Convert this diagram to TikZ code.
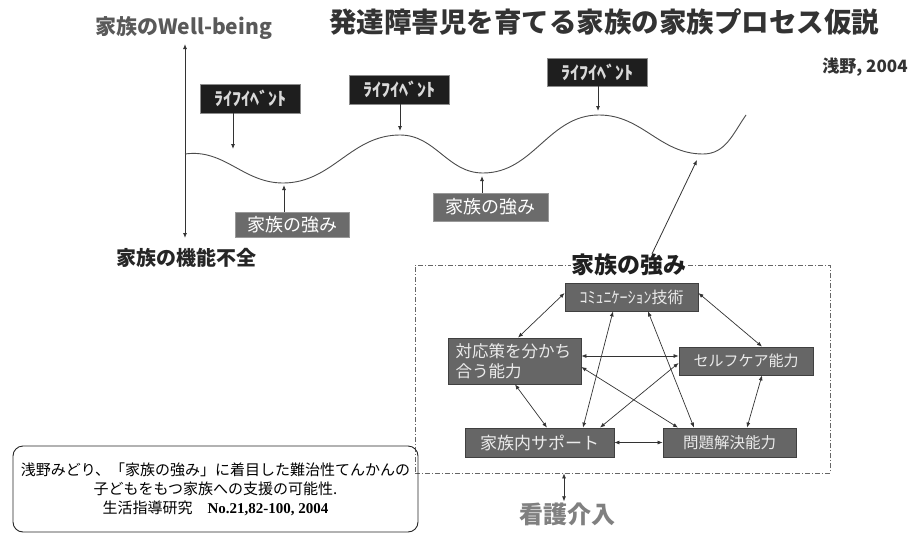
\documentclass[tikz,border=0pt]{standalone}
\usepackage{fontspec}
\setmainfont{Noto Sans CJK JP}
\newfontfamily\refserif{Liberation Serif}
\usetikzlibrary{arrows.meta}
\definecolor{lefill}{HTML}{1E1E1E}
\definecolor{stfill}{HTML}{6B6B6B}
\definecolor{netfill}{HTML}{666666}
\tikzset{
  fs/.style={font=\fontsize{#1}{#1}\selectfont},
  lebox/.style={draw=black!45, line width=0.8pt, fill=lefill, text=white!85!black, minimum width=100pt, minimum height=29pt, inner sep=0pt, font=\fontsize{18}{18}\selectfont\bfseries},
  stbox/.style={draw=black!40, line width=0.8pt, fill=stfill, text=white, minimum height=27pt, inner sep=0pt, font=\fontsize{18}{18}\selectfont},
  netbox/.style={draw=black!75, line width=0.8pt, fill=netfill, text=white!92!black, inner sep=0pt, minimum height=28pt},
  tip/.style={-{Latex[length=5pt,width=4pt]}, line width=0.8pt, draw=black!80},
  arr/.style={{Latex[length=5pt,width=4pt]}-{Latex[length=5pt,width=4pt]}, line width=0.7pt, draw=black!80},
}
\begin{document}
\begin{tikzpicture}[x=1pt,y=-1pt]
\useasboundingbox[fill=white] (0,0) rectangle (921,533);

% titles
\node[fs=27.5, text=black!80, inner sep=0pt] (title) at (604,22) {\bfseries 発達障害児を育てる家族の家族プロセス仮説};
\node[fs=21, text=black!65, inner sep=0pt] (wb) at (183.5,28) {\bfseries 家族のWell-being};
\node[fs=20, text=black!85, inner sep=0pt] (dys) at (186.5,258) {\bfseries 家族の機能不全};
\node[fs=17, text=black!80, inner sep=0pt] (asano) at (865,67) {\bfseries 浅野, 2004};

% axis
\coordinate (axtop) at (185,44);
\coordinate (axbot) at (185,238);
\draw[arr, line width=0.9pt] (axtop) -- (axbot);

% curve
\draw[line width=0.9pt, black!70] (185,154) to[out=8,in=180] (283,183) to[out=0,in=180] (400,135)
  to[out=0,in=180] (483,173) to[out=0,in=180] (599,115) to[out=0,in=180] (703,154) to[out=0,in=235] (746,115);
\coordinate (p1) at (233,149);
\coordinate (p2) at (400,131);
\coordinate (p3) at (598,111);
\coordinate (q1) at (284,185);
\coordinate (q2) at (482,176);
\coordinate (q3) at (697,160);

% life events
\node[lebox] (le1) at (250,98.5) {ﾗｲﾌｲﾍﾞﾝﾄ};
\node[lebox] (le2) at (399,89.5) {ﾗｲﾌｲﾍﾞﾝﾄ};
\node[lebox, minimum height=28pt] (le3) at (597,72) {ﾗｲﾌｲﾍﾞﾝﾄ};
\draw[tip] ([xshift=-17pt]le1.south) -- (p1);
\draw[tip] ([xshift=1pt]le2.south) -- (p2);
\draw[tip] ([xshift=1pt]le3.south) -- (p3);

% strengths on curve
\node[stbox, minimum width=114pt, minimum height=25pt] (s1) at (292,224.5) {家族の強み};
\node[stbox, minimum width=115pt, minimum height=28pt] (s2) at (490.5,207) {家族の強み};
\draw[tip] ([xshift=-8pt]s1.north) -- (q1);
\draw[tip] ([xshift=-8.5pt]s2.north) -- (q2);

% strength frame
\node[draw=black!60, line width=0.8pt, dash pattern=on 5pt off 2pt on 1pt off 2pt, minimum width=415pt, minimum height=208pt, inner sep=0pt] (frame) at (622.5,369) {};
\node[fill=white, inner sep=1pt, fs=23, text=black!88] (ftitle) at (629,265) {\bfseries 家族の強み};
\draw[tip] ([xshift=23pt,yshift=-1pt]ftitle.north) -- (q3);

% network
\node[netbox, minimum width=133pt, fs=16] (comm) at (631.5,297) {ｺﾐｭﾆｹｰｼｮﾝ技術};
\node[netbox, minimum height=46pt, text width=118pt, inner xsep=7.5pt, align=left, font=\fontsize{16.5}{20}\selectfont] (taio) at (514.5,361) {対応策を分かち\\合う能力};
\node[netbox, minimum width=134pt, fs=15] (self) at (746,361) {セルフケア能力};
\node[netbox, minimum width=149pt, minimum height=29pt, fs=17] (kaz) at (539.5,442.5) {家族内サポート};
\node[netbox, minimum width=133pt, minimum height=29pt, fs=15.5] (mon) at (729.5,442.5) {問題解決能力};

\draw[arr] ([yshift=4pt]comm.west) -- ([xshift=3.5pt]taio.north);
\draw[arr] ([yshift=4pt]comm.east) -- ([xshift=16pt]self.north);
\draw[arr] ([xshift=-18.5pt]comm.south) -- ([xshift=43.5pt]kaz.north);
\draw[arr] ([xshift=16.5pt]comm.south) -- ([xshift=-35.5pt]mon.north);
\draw[arr] ([yshift=5pt]taio.east) -- ([yshift=5pt]self.west);
\draw[arr] ([yshift=-6pt]taio.east) -- ([xshift=-51.5pt]mon.north);
\draw[arr] ([xshift=0.5pt]taio.south) -- ([xshift=7.5pt]kaz.north);
\draw[arr] ([yshift=-2pt]self.west) -- ([xshift=60.5pt]kaz.north);
\draw[arr] ([xshift=16pt]self.south) -- ([xshift=17.5pt]mon.north);
\draw[arr] (kaz.east) -- (mon.west);

% nursing
\node[fs=24, text=black!50, inner sep=1pt] (kango) at (567,514) {\bfseries 看護介入};
\draw[arr] ([xshift=-58.5pt]frame.south) -- ([xshift=-3pt]kango.north);

% citation
\node[draw=black!85, line width=0.9pt, rounded corners=10pt, minimum width=405pt, minimum height=86pt, align=center, inner sep=0pt, font=\fontsize{15}{19}\selectfont] (cite) at (215.5,489)
 {浅野みどり、「家族の強み」に着目した難治性てんかんの\\子どもをもつ家族への支援の可能性.\\生活指導研究\quad{\refserif\bfseries No.21,82-100, 2004}};
\end{tikzpicture}
\end{document}
